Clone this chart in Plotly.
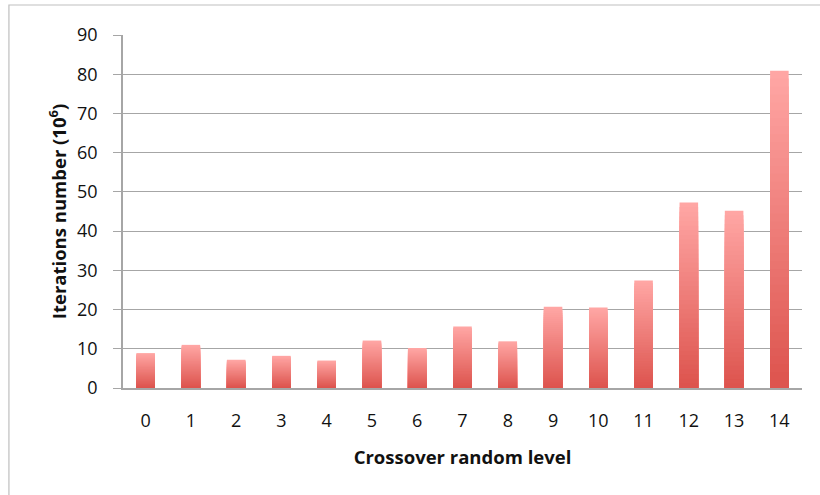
import plotly.graph_objects as go

categories = [str(i) for i in range(15)]
iterations = [8.9, 11.0, 7.2, 8.2, 7.0, 12.1, 10.2, 15.7, 11.9, 20.7, 20.5, 27.4, 47.3, 45.2, 80.9]
y_ticks = [0, 10, 20, 30, 40, 50, 60, 70, 80, 90]

top_rgb = (255, 166, 164)
bottom_rgb = (221, 84, 78)
N_LAYERS = 40

fig = go.Figure()
for k in range(N_LAYERS, 0, -1):
    t = (N_LAYERS - k) / (N_LAYERS - 1)  # 0 at full height (lightest) -> 1 at bottom (darkest)
    c = tuple(round(a + (b - a) * t) for a, b in zip(top_rgb, bottom_rgb))
    fig.add_trace(go.Bar(
        x=categories,
        y=[v * k / N_LAYERS for v in iterations],
        marker=dict(color=f"rgb{c}", line=dict(width=0)),
        showlegend=False,
        hoverinfo="skip" if k != N_LAYERS else None,
    ))

font_family = "'Open Sans', sans-serif"
fig.update_layout(
    width=820, height=495,
    barmode="overlay",
    bargap=0.59,
    plot_bgcolor="white",
    paper_bgcolor="white",
    margin=dict(l=123, r=18, t=35, b=107, autoexpand=False),
    font=dict(family=font_family, size=18, color="#111111"),
    xaxis=dict(
        type="category",
        automargin=False,
        showgrid=False,
        showline=True, linecolor="#A6A6A6", linewidth=1.5,
        ticks="", ticklabelstandoff=16,
        tickfont=dict(size=18),
        title=dict(text="<b>Crossover random level</b>", font=dict(size=18.5), standoff=20),
    ),
    yaxis=dict(
        automargin=False,
        range=[0, 90], tickvals=y_ticks,
        showgrid=True, gridcolor="#A6A6A6", gridwidth=1.2,
        showline=True, linecolor="#A6A6A6", linewidth=1.5,
        ticks="outside", ticklen=8, tickcolor="#A6A6A6",
        zeroline=False,
        tickfont=dict(size=18),
        ticklabelstandoff=12,
        title=dict(text="<b>Iterations number (10<sup>6</sup>)</b>", font=dict(size=18.5), standoff=6),
    ),
    shapes=[dict(
        type="rect", xref="paper", yref="paper",
        x0=-0.168, x1=1.04, y0=-0.33, y1=1.085,
        line=dict(color="#BFBFBF", width=1.2), fillcolor="rgba(0,0,0,0)", layer="below",
    )],
)

fig.write_html(
    "out.html",
    config={"displayModeBar": False},
    post_script="document.body.style.margin='0';",
)
